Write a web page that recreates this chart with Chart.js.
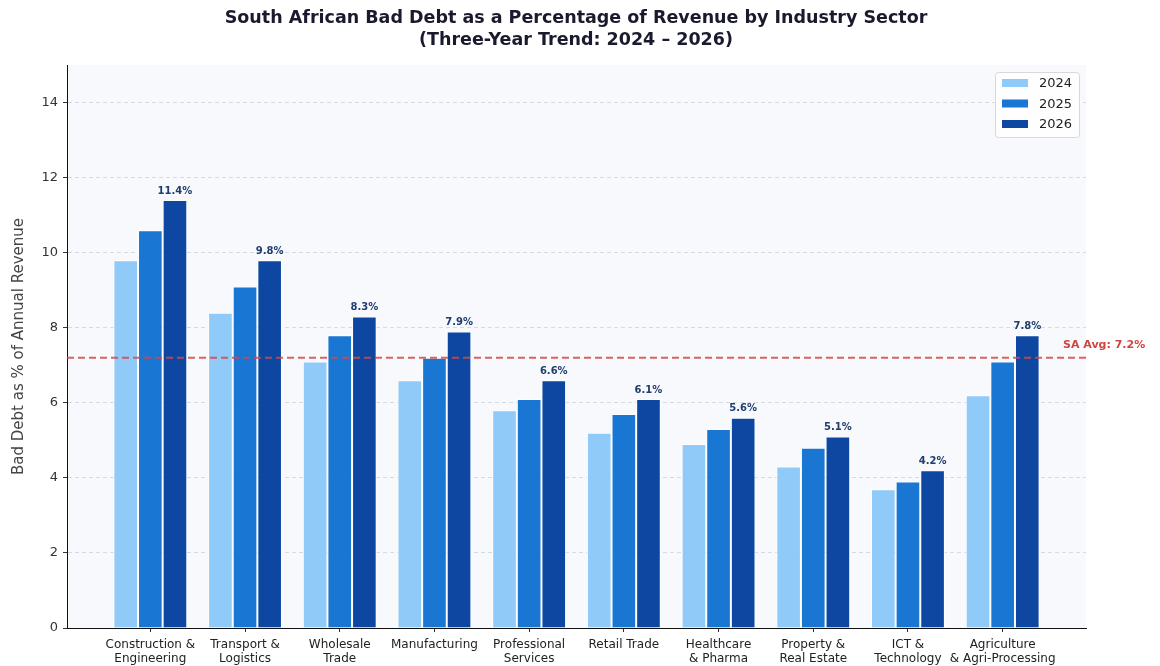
<!DOCTYPE html>
<html>
<head>
<meta charset="utf-8">
<script src="https://cdn.jsdelivr.net/npm/chart.js@4/dist/chart.umd.min.js"></script>
<style>
  html, body { margin: 0; padding: 0; background: #ffffff; }
  #wrap { width: 1160px; height: 666px; }
</style>
</head>
<body>
<div id="wrap"><canvas id="debtChart" width="1160" height="666"></canvas></div>
<script>
// sectors (two-line tick labels)
const sectorLabels = [
    ['Construction &', 'Engineering'],
    ['Transport &', 'Logistics'],
    ['Wholesale', 'Trade'],
    ['Manufacturing'],
    ['Professional', 'Services'],
    ['Retail Trade'],
    ['Healthcare', '& Pharma'],
    ['Property &', 'Real Estate'],
    ['ICT &', 'Technology'],
    ['Agriculture', '& Agri-Processing']
];
const yearLabels = ['2024', '2025', '2026'];
const values2024 = [9.8, 8.4, 7.1, 6.6, 5.8, 5.2, 4.9, 4.3, 3.7, 6.2];
const values2025 = [10.6, 9.1, 7.8, 7.2, 6.1, 5.7, 5.3, 4.8, 3.9, 7.1];
const values2026 = [11.4, 9.8, 8.3, 7.9, 6.6, 6.1, 5.6, 5.1, 4.2, 7.8];
const yearColors = ['#90CAF9', '#1976D2', '#0D47A1'];
const avgValue = 7.2;
const yTicks = [0, 2, 4, 6, 8, 10, 12, 14];
const titleLines = ['South African Bad Debt as a Percentage of Revenue by Industry Sector',
                    '(Three-Year Trend: 2024 \u2013 2026)'];

function toPoints(arr) {
    return arr.map(function (v, i) { return { x: i, y: v }; });
}

const allValues = [values2024, values2025, values2026];
const datasets = yearLabels.map(function (yr, k) {
    return {
        label: yr,
        data: toPoints(allValues[k]),
        backgroundColor: yearColors[k],
        borderColor: '#ffffff',
        borderWidth: 1,
        categoryPercentage: 0.78,
        barPercentage: 1.0
    };
});

// plot background
const plotBg = {
    id: 'plotBg',
    beforeDraw: function (chart) {
        const a = chart.chartArea;
        const ctx = chart.ctx;
        ctx.save();
        ctx.fillStyle = '#f7f9fc';
        ctx.fillRect(a.left, a.top, a.right - a.left, a.bottom - a.top);
        ctx.restore();
    }
};

// title, average line, value labels, legend box
const extras = {
    id: 'extras',
    afterDatasetsDraw: function (chart) {
        const ctx = chart.ctx;
        const a = chart.chartArea;
        const yScale = chart.scales.y;

        // title (centred on the whole figure)
        ctx.save();
        ctx.font = 'bold 17.5px "DejaVu Sans"';
        ctx.fillStyle = '#1a1a2e';
        ctx.textAlign = 'center';
        ctx.textBaseline = 'middle';
        ctx.fillText(titleLines[0], 576, 18);
        ctx.fillText(titleLines[1], 576, 40);
        ctx.restore();

        // labels above 2026 bars
        const meta = chart.getDatasetMeta(2);
        ctx.save();
        ctx.font = 'bold 10px "DejaVu Sans"';
        ctx.fillStyle = '#1f3d70';
        ctx.textAlign = 'center';
        ctx.textBaseline = 'bottom';
        meta.data.forEach(function (bar, i) {
            ctx.fillText(values2026[i].toFixed(1) + '%', bar.x, bar.y - 4);
        });
        ctx.restore();

        // SA average line
        const yAvg = yScale.getPixelForValue(avgValue);
        ctx.save();
        ctx.strokeStyle = 'rgba(214, 72, 68, 0.85)';
        ctx.lineWidth = 2;
        ctx.setLineDash([7, 4]);
        ctx.beginPath();
        ctx.moveTo(a.left, yAvg);
        ctx.lineTo(a.right, yAvg);
        ctx.stroke();
        ctx.setLineDash([]);
        ctx.font = 'bold 11px "DejaVu Sans"';
        ctx.fillStyle = '#d04541';
        ctx.textAlign = 'left';
        ctx.textBaseline = 'middle';
        ctx.fillText('SA Avg: ' + avgValue.toFixed(1) + '%', a.right - 23, yAvg - 13);
        ctx.restore();

        // legend
        const bx = a.right - 91, by = a.top + 7, bw = 84, bh = 65;
        ctx.save();
        ctx.fillStyle = 'rgba(255,255,255,0.85)';
        ctx.strokeStyle = '#d8d8d8';
        ctx.lineWidth = 1;
        ctx.beginPath();
        ctx.roundRect(bx + 0.5, by + 0.5, bw, bh, 3);
        ctx.fill();
        ctx.stroke();
        ctx.font = '13px "DejaVu Sans"';
        ctx.textBaseline = 'middle';
        ctx.textAlign = 'left';
        yearLabels.forEach(function (yr, k) {
            const cy = by + 11 + k * 20.5;
            ctx.fillStyle = yearColors[k];
            ctx.fillRect(bx + 7, cy - 4, 26, 8);
            ctx.fillStyle = '#222222';
            ctx.fillText(yr, bx + 44, cy + 1);
        });
        ctx.restore();
    }
};

const ctx = document.getElementById('debtChart').getContext('2d');
new Chart(ctx, {
    type: 'bar',
    data: { datasets: datasets },
    options: {
        responsive: false,
        animation: false,
        layout: { padding: { left: 0, right: 74, top: 65, bottom: 0 } },
        plugins: {
            legend: { display: false },
            tooltip: { enabled: false }
        },
        scales: {
            x: {
                type: 'linear',
                min: -0.88,
                max: 9.88,
                offset: false,
                grid: { display: true, offset: false, drawOnChartArea: false, drawTicks: true, tickLength: 4, tickColor: '#333333' },
                border: { display: true, color: '#111111', width: 1 },
                ticks: {
                    stepSize: 1,
                    includeBounds: false,
                    autoSkip: false,
                    maxRotation: 0,
                    padding: 6,
                    color: '#222222',
                    font: { family: 'DejaVu Sans', size: 12, lineHeight: 1.18 },
                    callback: function (v) {
                        return Number.isInteger(v) && sectorLabels[v] ? sectorLabels[v] : '';
                    }
                },
                afterFit: function (scale) { scale.height = 38; }
            },
            y: {
                min: 0,
                max: 15,
                grid: { color: 'rgba(200, 206, 216, 0.7)', tickColor: '#333333', tickLength: 4, lineWidth: 1 },
                border: { display: true, color: '#111111', width: 1, dash: [4, 3] },
                afterBuildTicks: function (scale) {
                    scale.ticks = yTicks.map(function (v) { return { value: v }; });
                },
                ticks: {
                    color: '#333333',
                    padding: 5,
                    font: { family: 'DejaVu Sans', size: 13 }
                },
                title: {
                    display: true,
                    text: 'Bad Debt as % of Annual Revenue',
                    color: '#444444',
                    font: { family: 'DejaVu Sans', size: 15 },
                    padding: { top: 10, bottom: 4 }
                },
                afterFit: function (scale) { scale.width = 67; }
            }
        }
    },
    plugins: [plotBg, extras]
});
</script>
</body>
</html>
